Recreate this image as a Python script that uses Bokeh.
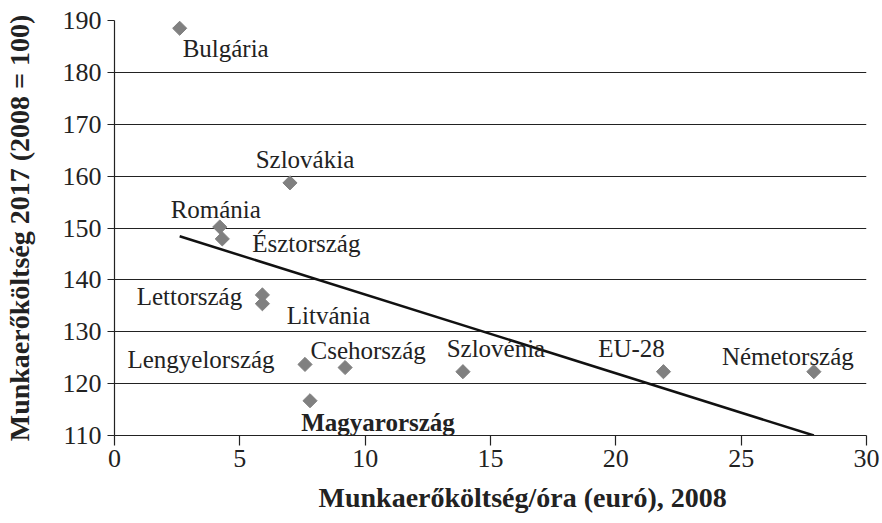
import numpy as np
from bokeh.plotting import figure
from bokeh.models import ColumnDataSource, Range1d, FixedTicker, Title
from bokeh.core.properties import value
from bokeh.embed import file_html
from bokeh.resources import INLINE

countries = ["Bulgária", "Szlovákia", "Románia", "Észtország", "Lettország", "Litvánia",
             "Lengyelország", "Csehország", "Szlovénia", "Magyarország", "EU-28", "Németország"]
cost_2008 = [2.6, 7.0, 4.2, 4.3, 5.9, 5.9, 7.6, 9.2, 13.9, 7.8, 21.9, 27.9]
index_2017 = [188.5, 158.7, 150.2, 147.9, 137.1, 135.4, 123.7, 123.1, 122.3, 116.7, 122.3, 122.3]
trend_x = [2.6, 27.9]
trend_y = [148.4, 110.0]
x_ticks = [0, 5, 10, 15, 20, 25, 30]
y_ticks = [110, 120, 130, 140, 150, 160, 170, 180, 190]
x_title = "Munkaerőköltség/óra (euró), 2008"
y_title = "Munkaerőköltség 2017 (2008 = 100)"

# label placement (screen pixels relative to each point)
label_dx = [46, 15, -4, 84, -73, 66, -104, 23, 33, 68, -32, -26]
label_dy = [20, -23, -17, 5, 2, 12, -5, -17, -23, 22, -23, -15]
label_style = ["normal"] * 9 + ["bold", "normal", "normal"]

FONT = "Liberation Serif"

src = ColumnDataSource(dict(x=cost_2008, y=index_2017, name=countries,
                            dx=label_dx, dy=label_dy, fs=label_style))

p = figure(width=880, height=523, output_backend="svg", toolbar_location=None,
           x_range=Range1d(0, 30), y_range=Range1d(110, 190),
           min_border_left=114, min_border_right=14, min_border_top=20, min_border_bottom=87)
p.outline_line_color = None
p.background_fill_color = "white"
p.border_fill_color = "white"

p.xgrid.visible = False
p.ygrid.grid_line_color = "#222222"
p.ygrid.grid_line_width = 1.2
p.ygrid.ticker = FixedTicker(ticks=y_ticks)

p.xaxis.ticker = FixedTicker(ticks=x_ticks)
p.yaxis.ticker = FixedTicker(ticks=y_ticks)
for ax in (p.xaxis[0], p.yaxis[0]):
    ax.axis_line_color = "#222222"
    ax.axis_line_width = 1.2
    ax.major_tick_line_color = "#222222"
    ax.major_tick_line_width = 1.2
    ax.major_tick_in = 0
    ax.minor_tick_line_color = None
    ax.major_label_text_font = FONT
    ax.major_label_text_font_size = "26px"
    ax.major_label_text_color = "#222222"
    ax.axis_label_text_font = FONT
    ax.axis_label_text_font_style = "bold"
    ax.axis_label_text_color = "#222222"

p.yaxis.axis_label_text_font_size = "28px"
p.xaxis.major_tick_out = 10
p.yaxis.major_tick_out = 7
p.xaxis.major_label_standoff = 4
p.yaxis.major_label_standoff = 6
p.yaxis.axis_label = y_title
p.yaxis.axis_label_standoff = 25

p.add_layout(Title(text=x_title, align="left", offset=204, standoff=21,
                   text_font=FONT, text_font_size="28px", text_font_style="bold",
                   text_color="#222222"), "below")

p.line(trend_x, trend_y, line_color="#111111", line_width=2.5)
p.scatter("x", "y", source=src, marker="square", angle=np.pi / 4, size=10,
          fill_color="#808080", line_color="#808080")
p.text("x", "y", text="name", source=src, x_offset="dx", y_offset="dy",
       text_align="center", text_baseline="middle", text_font=value(FONT),
       text_font_size="25px", text_font_style="fs", text_color="#222222")

open("out.html", "w").write(file_html(p, INLINE))
